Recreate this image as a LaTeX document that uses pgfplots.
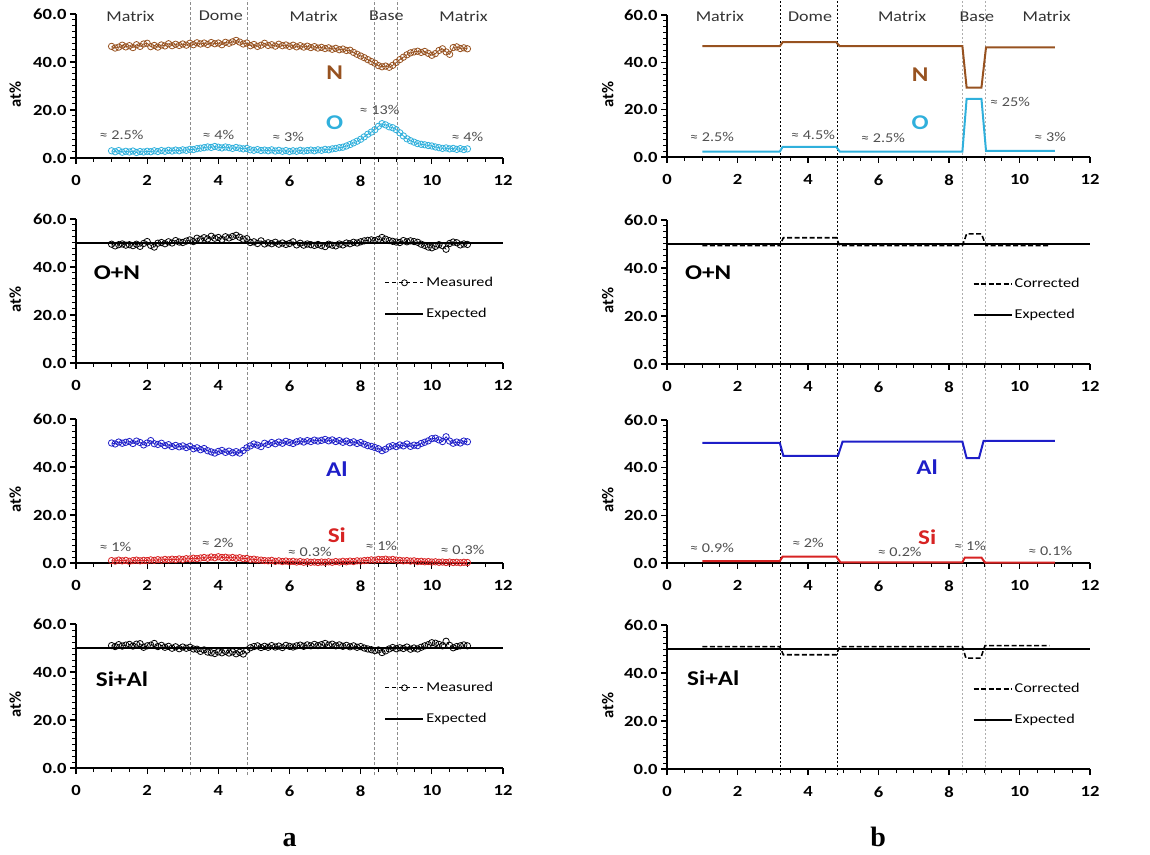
\documentclass[border=0pt]{standalone}
\usepackage{fontspec}
\setmainfont{Carlito}[FakeStretch=1.2, UprightFeatures={FakeStretch=1.2}, BoldFeatures={FakeStretch=1.2}]
\newfontfamily\plainfont{Carlito}
\newfontfamily\serifb{Liberation Serif}
\usepackage{pgfplots}
\usepackage{pgfplotstable}
\pgfplotsset{compat=1.18}
\definecolor{nbrown}{RGB}{151,82,32}
\definecolor{ocyan}{RGB}{48,176,220}
\definecolor{alblue}{RGB}{30,30,200}
\definecolor{sired}{RGB}{215,35,35}
\definecolor{annot}{RGB}{80,80,80}
\definecolor{sep}{RGB}{140,140,140}

\pgfplotstableread{
x N O ON Al Si SA
1.0 46.5 3.0 49.5 50.0 1.0 51.0
1.1 45.8 2.6 48.8 49.6 0.8 50.6
1.2 46.2 3.1 49.3 50.4 1.2 51.4
1.3 47.0 2.4 49.6 49.9 0.9 50.8
1.4 46.3 2.8 49.1 50.3 1.1 51.2
1.5 46.8 2.5 49.3 50.6 0.7 51.5
1.6 46.0 2.9 48.9 49.8 1.0 50.8
1.7 47.2 2.3 49.5 50.8 1.2 51.6
1.8 46.5 2.7 48.6 50.2 0.9 51.8
1.9 47.5 2.5 49.8 49.2 1.1 50.3
2.0 47.8 2.8 50.6 50.0 1.0 50.9
2.1 46.4 2.6 49.0 51.0 1.3 51.2
2.2 46.9 3.0 48.3 49.7 1.1 51.9
2.3 46.2 2.7 49.9 49.4 1.4 50.6
2.4 47.1 3.1 50.2 49.9 1.2 51.1
2.5 46.7 2.8 49.7 48.9 1.5 50.3
2.6 47.6 3.2 50.5 49.3 1.3 50.7
2.7 46.8 2.9 50.0 48.5 1.6 49.9
2.8 47.4 3.3 51.0 49.0 1.4 50.5
2.9 46.9 3.0 50.4 48.4 1.7 49.7
3.0 47.5 3.4 50.2 48.8 1.5 50.4
3.1 47.0 3.2 50.8 48.1 1.8 49.9
3.2 47.8 3.6 51.3 48.6 1.7 50.3
3.3 47.2 3.5 50.6 47.6 2.0 49.6
3.4 48.0 3.9 52.0 48.0 1.8 49.5
3.5 47.5 4.1 51.5 47.2 2.1 48.6
3.6 47.9 4.3 52.2 47.7 2.3 49.2
3.7 47.3 4.6 51.7 46.8 2.0 48.3
3.8 48.1 4.4 52.8 46.3 2.5 48.0
3.9 47.6 4.8 52.0 45.8 2.2 47.7
4.0 47.9 4.5 52.3 46.5 2.6 48.4
4.1 47.2 4.2 51.5 46.9 2.3 48.0
4.2 48.2 4.6 52.6 46.1 2.4 48.6
4.3 47.8 4.3 52.1 46.6 2.1 47.9
4.4 48.4 4.0 52.7 45.9 2.3 48.4
4.5 49.0 4.4 53.2 46.4 2.0 47.6
4.6 48.3 4.1 52.4 45.8 2.2 48.2
4.7 47.5 3.8 51.6 46.9 1.8 47.5
4.8 47.9 4.0 51.8 48.0 1.9 49.1
4.9 46.8 3.4 50.2 48.8 1.5 50.1
5.0 47.3 3.2 50.5 49.6 1.6 50.6
5.1 46.5 3.5 49.8 49.1 1.3 50.9
5.2 47.0 3.1 50.9 48.5 1.2 50.2
5.3 47.8 3.3 49.6 49.9 1.0 50.7
5.4 46.9 3.0 50.1 49.4 0.9 50.3
5.5 47.2 3.4 49.7 50.2 1.1 51.0
5.6 46.6 2.9 50.3 49.7 0.7 50.4
5.7 47.4 3.2 49.5 50.4 0.9 50.8
5.8 46.8 2.8 50.0 49.9 0.6 50.2
5.9 47.1 3.1 49.4 50.7 0.8 51.1
6.0 46.5 2.7 49.8 50.2 0.5 50.7
6.1 47.0 3.0 50.5 49.8 0.7 50.4
6.2 46.3 2.8 49.2 50.5 0.4 50.9
6.3 46.8 3.2 49.9 50.9 0.6 51.2
6.4 46.2 2.9 49.1 50.4 0.3 50.7
6.5 46.6 3.1 49.6 51.0 0.5 51.3
6.6 46.0 3.3 49.3 50.6 0.3 50.9
6.7 46.4 3.0 49.0 51.2 0.4 51.5
6.8 45.8 3.4 49.4 50.8 0.2 51.0
6.9 46.1 3.2 48.9 51.1 0.4 51.4
7.0 45.6 3.6 48.5 51.5 0.3 51.9
7.1 45.9 3.4 49.5 50.9 0.5 51.2
7.2 45.3 3.8 49.1 51.3 0.3 51.6
7.3 45.7 4.0 48.8 50.6 0.6 50.9
7.4 45.1 4.3 49.6 51.0 0.4 51.3
7.5 45.4 4.5 49.2 50.3 0.7 50.7
7.6 44.8 5.0 50.0 50.8 0.5 51.1
7.7 44.9 5.6 49.7 50.1 0.8 50.5
7.8 44.0 6.3 50.3 50.5 0.6 50.9
7.9 43.2 7.0 50.0 49.8 0.9 50.3
8.0 42.5 7.8 50.5 50.2 0.8 50.6
8.1 41.8 8.8 50.9 49.5 1.0 50.0
8.2 41.0 9.9 51.1 48.9 1.1 49.6
8.3 40.2 10.8 51.3 48.6 1.3 49.3
8.4 39.5 11.8 51.0 48.1 1.2 48.9
8.5 38.5 13.2 51.5 47.6 1.5 49.2
8.6 38.0 14.3 52.3 46.8 1.4 48.1
8.7 38.3 13.8 51.6 47.4 1.6 48.8
8.8 37.8 13.0 51.0 48.4 1.3 49.6
8.9 38.6 12.6 50.7 48.9 1.5 50.2
9.0 39.8 11.8 50.4 48.5 1.2 49.7
9.1 41.0 10.5 50.2 49.2 1.1 50.1
9.2 42.0 9.2 51.0 48.8 0.9 49.8
9.3 43.0 8.0 50.5 49.6 1.0 50.4
9.4 43.8 7.2 50.9 48.6 0.8 49.5
9.5 44.2 6.6 50.6 49.1 0.9 50.0
9.6 44.5 6.0 50.3 48.9 0.6 49.6
9.7 44.0 5.7 49.5 49.8 0.7 50.3
9.8 44.4 5.5 49.0 50.3 0.5 50.9
9.9 43.6 5.2 48.3 50.9 0.6 51.4
10.0 42.8 5.0 48.0 51.8 0.4 52.2
10.1 43.5 4.6 48.6 52.0 0.5 52.0
10.2 44.8 4.3 49.3 51.3 0.3 51.5
10.3 45.5 4.0 48.9 50.6 0.4 50.9
10.4 44.2 4.2 47.4 52.6 0.2 52.8
10.5 43.2 3.8 49.8 50.8 0.4 51.1
10.6 46.0 4.0 50.4 49.9 0.2 50.1
10.7 46.3 3.6 50.1 50.4 0.3 50.6
10.8 45.6 3.9 49.2 50.0 0.1 50.9
10.9 45.9 3.5 49.6 50.8 0.3 51.3
11.0 45.5 3.8 49.4 50.5 0.2 50.9
}\leftdata

\tikzset{
  matlab/.style={font=\fontsize{15}{15}\selectfont, text=black!80},
  ann/.style={font=\fontsize{13.5}{13.5}\selectfont, text=annot},
  big/.style={font=\bfseries\fontsize{21}{21}\selectfont},
}
\pgfplotsset{
  panel/.style={scale only axis, width=427pt, height=144pt, anchor=south west,
    xmin=0, xmax=12, ymin=0, ymax=60, clip=false,
    axis lines*=left, axis line style={line width=1.6pt, -},
    xtick={0,2,...,12}, ytick={0,20,40,60},
    minor x tick num=3, minor y tick num=7,
    tick align=outside, major tick length=6pt, minor tick length=4pt,
    major tick style={black, line width=1.3pt}, minor tick style={black, line width=1pt},
    tick label style={font=\bfseries\fontsize{15.5}{15.5}\selectfont},
    /pgf/number format/assume math mode=true,
    yticklabel style={/pgf/number format/fixed, /pgf/number format/fixed zerofill, /pgf/number format/precision=1},
    xticklabel style={/pgf/number format/fixed, /pgf/number format/precision=0, yshift=-8pt},
    ylabel={at\%},
    every axis y label/.style={at={(axis description cs:-0.142,0.44)}, rotate=90, anchor=center, font=\plainfont\bfseries\fontsize{16.5}{16.5}\selectfont},
  },
  rightpanel/.style={panel, width=423pt,
    every axis y label/.style={at={(axis description cs:-0.14,0.44)}, rotate=90, anchor=center, font=\plainfont\bfseries\fontsize{16.5}{16.5}\selectfont}},
  leg/.style={legend style={at={(axis description cs:0.722,0.61)}, anchor=north west, draw=none, fill=none,
      font=\fontsize{13.5}{13.5}\selectfont, row sep=16pt, inner sep=0pt, legend cell align=left},
    legend image code/.code={\draw[mark repeat=2, mark phase=2, ##1] plot coordinates {(0pt,0pt) (19pt,0pt) (38pt,0pt)};}},
  pts/.style={mark=o, mark size=3.2pt, line width=0.8pt},
}

\begin{document}
\begin{tikzpicture}
\path[use as bounding box] (0pt,0pt) rectangle (1150pt,854pt);

% ---------- column a ----------
\begin{axis}[at={(76pt,79pt)}, anchor=south west, scale only axis, width=427pt, height=775pt,
  xmin=0, xmax=12, ymin=0, ymax=1, hide axis, clip=false]
\addplot[sep, dash pattern=on 3pt off 2pt, line width=0.7pt] coordinates {(3.22,0) (3.22,1)};
\addplot[sep, dash pattern=on 3pt off 2pt, line width=0.7pt] coordinates {(4.82,0) (4.82,1)};
\addplot[sep, dash pattern=on 3pt off 2pt, line width=0.7pt] coordinates {(8.38,0) (8.38,1)};
\addplot[sep, dash pattern=on 3pt off 2pt, line width=0.7pt] coordinates {(9.02,0) (9.02,1)};
\node[font=\serifb\bfseries\fontsize{28}{28}\selectfont, anchor=base] at (axis description cs:0.5,-0.092) {a};
\end{axis}

\begin{axis}[panel, at={(76pt,696pt)}]
\addplot[nbrown, pts] table[x=x, y=N] {\leftdata};
\addplot[ocyan, pts] table[x=x, y=O] {\leftdata};
\node[matlab] at (axis cs:1.53,59.2) {Matrix};
\node[matlab] at (axis cs:4.07,59.2) {Dome};
\node[matlab] at (axis cs:6.68,59.2) {Matrix};
\node[matlab] at (axis cs:8.72,59.2) {Base};
\node[matlab] at (axis cs:10.89,59.2) {Matrix};
\node[big, text=nbrown] at (axis cs:7.27,35.7) {N};
\node[big, text=ocyan] at (axis cs:7.27,14.7) {O};
\node[ann] at (axis cs:1.28,9.7) {≈ 2.5\%};
\node[ann] at (axis cs:4.0,9.7) {≈ 4\%};
\node[ann] at (axis cs:5.96,8.8) {≈ 3\%};
\node[ann] at (axis cs:8.53,20.1) {≈ 13\%};
\node[ann] at (axis cs:11.0,8.8) {≈ 4\%};
\end{axis}

\begin{axis}[panel, leg, at={(76pt,491pt)}]
\addlegendimage{black, line width=1pt, dash pattern=on 4pt off 3pt, mark=o, mark size=3pt, mark options={solid, line width=0.8pt}}
\addlegendentry{Measured}
\addlegendimage{black, line width=2pt}
\addlegendentry{Expected}
\addplot[black, pts, dashed, mark options={solid}, forget plot] table[x=x, y=ON] {\leftdata};
\addplot[black, line width=1.6pt, forget plot] coordinates {(0,50) (12,50)};
\node[big] at (axis cs:1.15,37.5) {O+N};
\end{axis}

\begin{axis}[panel, at={(76pt,291pt)}]
\addplot[alblue, pts] table[x=x, y=Al] {\leftdata};
\addplot[sired, pts] table[x=x, y=Si] {\leftdata};
\node[big, text=alblue] at (axis cs:7.33,39.3) {Al};
\node[big, text=sired] at (axis cs:7.33,11.6) {Si};
\node[ann] at (axis cs:1.11,6.6) {≈ 1\%};
\node[ann] at (axis cs:3.98,8.3) {≈ 2\%};
\node[ann] at (axis cs:6.57,4.6) {≈ 0.3\%};
\node[ann] at (axis cs:8.58,7.0) {≈ 1\%};
\node[ann] at (axis cs:10.86,5.4) {≈ 0.3\%};
\end{axis}

\begin{axis}[panel, leg, at={(76pt,86pt)}]
\addlegendimage{black, line width=1pt, dash pattern=on 4pt off 3pt, mark=o, mark size=3pt, mark options={solid, line width=0.8pt}}
\addlegendentry{Measured}
\addlegendimage{black, line width=2pt}
\addlegendentry{Expected}
\addplot[black, pts, dashed, mark options={solid}, forget plot] table[x=x, y=SA] {\leftdata};
\addplot[black, line width=1.6pt, forget plot] coordinates {(0,50) (12,50)};
\node[big] at (axis cs:1.29,37.2) {Si+Al};
\end{axis}

% ---------- column b ----------
\begin{axis}[at={(667pt,79pt)}, anchor=south west, scale only axis, width=423pt, height=775pt,
  xmin=0, xmax=12, ymin=0, ymax=1, hide axis, clip=false]
\addplot[black, dash pattern=on 2pt off 2pt, line width=0.6pt] coordinates {(3.22,0) (3.22,1)};
\addplot[black, dash pattern=on 2pt off 2pt, line width=0.6pt] coordinates {(4.82,0) (4.82,1)};
\addplot[sep!70, dash pattern=on 2pt off 2pt, line width=0.7pt] coordinates {(8.38,0) (8.38,1)};
\addplot[sep!70, dash pattern=on 2pt off 2pt, line width=0.7pt] coordinates {(9.03,0) (9.03,1)};
\node[font=\serifb\bfseries\fontsize{28}{28}\selectfont, anchor=base] at (axis description cs:0.499,-0.092) {b};
\end{axis}

\begin{axis}[rightpanel, at={(667pt,697pt)}, height=142pt]
\addplot[nbrown, line width=2pt] coordinates {(1,46.8) (3.2,46.8) (3.28,48.5) (4.8,48.5) (4.9,46.8) (8.38,46.8) (8.5,29.3) (8.92,29.3) (9.05,46.3) (11,46.3)};
\addplot[ocyan, line width=2pt] coordinates {(1,2.3) (3.2,2.3) (3.28,4.3) (4.8,4.3) (4.9,2.3) (8.38,2.3) (8.5,24.6) (8.92,24.6) (9.05,2.6) (11,2.6)};
\node[matlab] at (axis cs:1.50,59.4) {Matrix};
\node[matlab] at (axis cs:4.06,59.4) {Dome};
\node[matlab] at (axis cs:6.67,59.4) {Matrix};
\node[matlab] at (axis cs:8.79,59.4) {Base};
\node[matlab] at (axis cs:10.77,59.4) {Matrix};
\node[big, text=nbrown] at (axis cs:7.18,34.9) {N};
\node[big, text=ocyan] at (axis cs:7.18,14.5) {O};
\node[ann] at (axis cs:1.28,8.5) {≈ 2.5\%};
\node[ann] at (axis cs:4.14,9.4) {≈ 4.5\%};
\node[ann] at (axis cs:6.13,8.1) {≈ 2.5\%};
\node[ann] at (axis cs:9.73,23.4) {≈ 25\%};
\node[ann] at (axis cs:10.87,8.5) {≈ 3\%};
\end{axis}

\begin{axis}[rightpanel, leg, at={(667pt,490pt)}]
\addlegendimage{black, line width=1.8pt, dash pattern=on 5pt off 2.5pt}
\addlegendentry{Corrected}
\addlegendimage{black, line width=2pt}
\addlegendentry{Expected}
\addplot[black, line width=1.6pt, dash pattern=on 5pt off 2.5pt, forget plot] coordinates {(1,49.3) (3.2,49.3) (3.3,52.6) (4.8,52.6) (4.9,49.3) (8.38,49.3) (8.5,54.2) (8.92,54.2) (9.05,49.3) (10.85,49.3)};
\addplot[black, line width=1.6pt, forget plot] coordinates {(0,50) (12,50)};
\node[big] at (axis cs:1.17,37.9) {O+N};
\end{axis}

\begin{axis}[rightpanel, at={(667pt,291pt)}, height=143pt]
\addplot[alblue, line width=2pt] coordinates {(1,50.4) (3.2,50.4) (3.3,45.0) (4.85,45.0) (4.98,50.9) (8.38,50.9) (8.5,44.0) (8.85,44.0) (8.98,51.2) (11,51.2)};
\addplot[sired, line width=2pt] coordinates {(1,0.8) (3.2,0.8) (3.28,2.7) (4.8,2.7) (4.92,0.3) (8.38,0.3) (8.45,2.3) (8.92,2.3) (9.02,0.2) (11,0.2)};
\node[big, text=alblue] at (axis cs:7.38,40.3) {Al};
\node[big, text=sired] at (axis cs:7.38,10.9) {Si};
\node[ann] at (axis cs:1.28,6.3) {≈ 0.9\%};
\node[ann] at (axis cs:4.0,8.4) {≈ 2\%};
\node[ann] at (axis cs:6.6,4.6) {≈ 0.2\%};
\node[ann] at (axis cs:8.6,7.1) {≈ 1\%};
\node[ann] at (axis cs:10.87,5.0) {≈ 0.1\%};
\end{axis}

\begin{axis}[rightpanel, leg, at={(667pt,85pt)}]
\addlegendimage{black, line width=1.8pt, dash pattern=on 5pt off 2.5pt}
\addlegendentry{Corrected}
\addlegendimage{black, line width=2pt}
\addlegendentry{Expected}
\addplot[black, line width=1.6pt, dash pattern=on 5pt off 2.5pt, forget plot] coordinates {(1,51.0) (3.2,51.0) (3.3,47.6) (4.8,47.6) (4.9,51.0) (8.38,51.0) (8.48,46.2) (8.9,46.2) (9.02,51.4) (10.85,51.4)};
\addplot[black, line width=1.6pt, forget plot] coordinates {(0,50) (12,50)};
\node[big] at (axis cs:1.31,38.0) {Si+Al};
\end{axis}

\end{tikzpicture}
\end{document}
